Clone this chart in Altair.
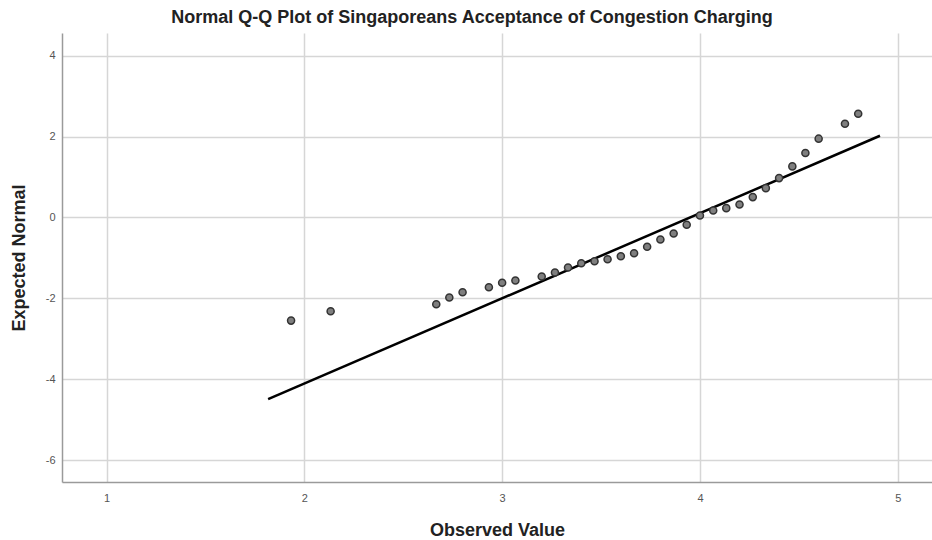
import altair as alt
import pandas as pd

# Observed values (x) and expected normal values (y) of the Q-Q points
observed = [1.933, 2.133, 2.667, 2.733, 2.8, 2.933, 3.0, 3.067, 3.2, 3.267,
            3.333, 3.4, 3.467, 3.533, 3.6, 3.667, 3.733, 3.8, 3.867, 3.933,
            4.0, 4.067, 4.133, 4.2, 4.267, 4.333, 4.4, 4.467, 4.533, 4.6,
            4.733, 4.8]
expected = [-2.55, -2.32, -2.146, -1.98, -1.849, -1.725, -1.616, -1.559, -1.46, -1.361,
            -1.238, -1.131, -1.082, -1.032, -0.958, -0.884, -0.725, -0.545, -0.396, -0.181,
            0.05, 0.173, 0.23, 0.322, 0.503, 0.725, 0.973, 1.262, 1.592, 1.948,
            2.317, 2.564]

# Reference line end points
line_x = [1.817, 4.91]
line_y = [-4.49, 2.02]

x_ticks = [1, 2, 3, 4, 5]
y_ticks = [-6, -4, -2, 0, 2, 4]

pts = pd.DataFrame({"x": observed, "y": expected})
ln = pd.DataFrame({"x": line_x, "y": line_y})

FONT = "Liberation Sans"

xscale = alt.Scale(domain=[0.775, 5.173], nice=False, zero=False)
yscale = alt.Scale(domain=[-6.54, 4.56], nice=False, zero=False)

xaxis = alt.Axis(values=x_ticks, title="Observed Value", labelExpr="'' + datum.value",
                 ticks=False, labelPadding=10, titlePadding=18)
yaxis = alt.Axis(values=y_ticks, title="Expected Normal", labelExpr="'' + datum.value",
                 ticks=False, labelPadding=7, titlePadding=17)

points = alt.Chart(pts).mark_point(
    shape="circle", filled=True, size=50, fill="#7f7f7f", stroke="#333333",
    strokeWidth=1.5, opacity=1
).encode(
    x=alt.X("x:Q", scale=xscale, axis=xaxis),
    y=alt.Y("y:Q", scale=yscale, axis=yaxis),
)

line = alt.Chart(ln).mark_line(color="#000000", strokeWidth=2.5).encode(
    x=alt.X("x:Q", scale=xscale),
    y=alt.Y("y:Q", scale=yscale),
)

chart = alt.layer(line, points).properties(
    width=870,
    height=449,
    autosize="none",
    padding={"left": 62, "top": 33, "right": 0, "bottom": 58},
    title=alt.TitleParams(
        "Normal Q-Q Plot of Singaporeans Acceptance of Congestion Charging",
        anchor="middle", dx=-25, offset=6, fontSize=18, fontWeight="bold",
        font=FONT, color="#222222",
    ),
).configure_view(stroke=None).configure_axis(
    labelFont=FONT, labelFontSize=11, labelColor="#555555",
    titleFont=FONT, titleFontSize=18, titleFontWeight="bold", titleColor="#222222",
    domainColor="#9a9a9a", domainWidth=1.5,
    gridColor="#d6d6d6", gridWidth=1.5,
)

chart.save("out.html", embed_options={"renderer": "svg", "actions": False})
